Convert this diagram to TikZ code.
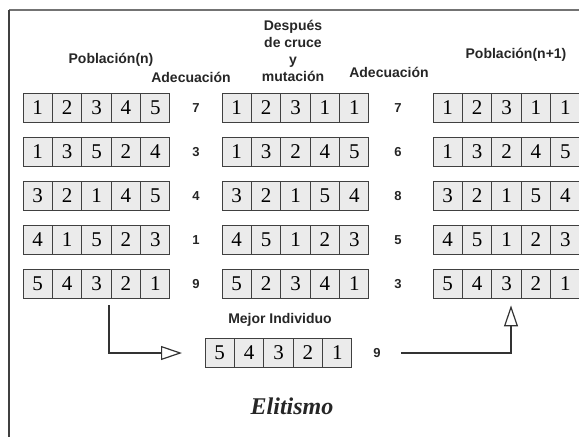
\documentclass[tikz,border=0pt]{standalone}
\usepackage{fontspec}
\setmainfont{Liberation Serif}
\setsansfont{Liberation Sans}
\usetikzlibrary{arrows.meta, positioning, shapes.multipart}

\newcommand{\genes}[5]{#1\nodepart{two}#2\nodepart{three}#3\nodepart{four}#4\nodepart{five}#5}

\begin{document}
\begin{tikzpicture}[
  x=1pt, y=-1pt,
  chromo/.style={draw=black!75, line width=0.9pt, fill=black!8, rectangle split, rectangle split horizontal, rectangle split parts=5, inner xsep=9pt, inner ysep=7.3pt, font=\fontsize{21}{21}\selectfont},
  lbl/.style={font=\sffamily\bfseries\fontsize{14}{17}\selectfont, align=center, text=black!85},
  score/.style={font=\sffamily\bfseries\fontsize{13}{13}\selectfont, text=black!85},
  elit/.style={-{Triangle[open, length=21pt, width=14pt]}, line width=1.2pt, draw=black!80},
]
\useasboundingbox (0,0) rectangle (579,437);

% Frame
\draw[black!55, line width=1.5pt] (9,10) -- (579,10);
\draw[black!75, line width=1.5pt] (9,10) -- (9,437);

% Poblacion(n)
\node[chromo] (pob1) at (96.5,108) {\genes12345};
\node[chromo, below=14.3pt of pob1] (pob2) {\genes13524};
\node[chromo, below=14.3pt of pob2] (pob3) {\genes32145};
\node[chromo, below=14.3pt of pob3] (pob4) {\genes41523};
\node[chromo, below=14.3pt of pob4] (pob5) {\genes54321};

% Despues de cruce y mutacion
\node[chromo, right=52pt of pob1] (hij1) {\genes12311};
\node[chromo, right=52pt of pob2] (hij2) {\genes13245};
\node[chromo, right=52pt of pob3] (hij3) {\genes32154};
\node[chromo, right=52pt of pob4] (hij4) {\genes45123};
\node[chromo, right=52pt of pob5] (hij5) {\genes52341};

% Poblacion(n+1)
\node[chromo, right=64pt of hij1] (sig1) {\genes12311};
\node[chromo, right=64pt of hij2] (sig2) {\genes13245};
\node[chromo, right=64pt of hij3] (sig3) {\genes32154};
\node[chromo, right=64pt of hij4] (sig4) {\genes45123};
\node[chromo, right=64pt of hij5] (sig5) {\genes54321};

% Adecuacion
\node[score] (adp1) at ([xshift=26pt]pob1.east) {7};
\node[score] (adp2) at ([xshift=26pt]pob2.east) {3};
\node[score] (adp3) at ([xshift=26pt]pob3.east) {4};
\node[score] (adp4) at ([xshift=26pt]pob4.east) {1};
\node[score] (adp5) at ([xshift=26pt]pob5.east) {9};
\node[score] (adh1) at ([xshift=29pt]hij1.east) {7};
\node[score] (adh2) at ([xshift=29pt]hij2.east) {6};
\node[score] (adh3) at ([xshift=29pt]hij3.east) {8};
\node[score] (adh4) at ([xshift=29pt]hij4.east) {5};
\node[score] (adh5) at ([xshift=29pt]hij5.east) {3};

% Titles
\node[lbl] (tpob) at (111,60) {Población(n)};
\node[lbl] (tadp) at (191,77) {Adecuación};
\node[lbl] (thij) at (293,51) {Después\\de cruce\\y\\mutación};
\node[lbl] (tadh) at (389,72) {Adecuación};
\node[lbl] (tsig) at (516,55) {Población(n+1)};

% Mejor individuo
\node[chromo] (mejor) at (278.5,353) {\genes54321};
\node[score] (adm) at ([xshift=25pt]mejor.east) {9};
\node[lbl] (tmejor) at (280,320) {Mejor Individuo};

\draw[elit] ([xshift=12.5pt,yshift=-7pt]pob5.south) |- ([xshift=-23pt]mejor.west);
\draw[elit] ([xshift=17pt]adm.east) -| ([xshift=4.5pt,yshift=-7pt]sig5.south);

\node[font=\bfseries\itshape\fontsize{24}{24}\selectfont, text=black!85] (titulo) at (292,406) {Elitismo};

\end{tikzpicture}
\end{document}
